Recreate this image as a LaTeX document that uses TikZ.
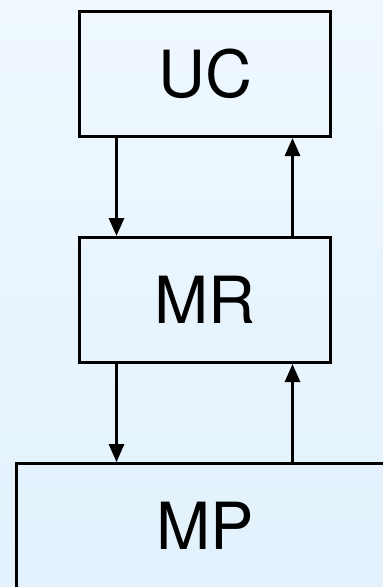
\documentclass[tikz,border=0pt]{standalone}
\usepackage{fontspec}
\setmainfont{TeX Gyre Heros}
\usetikzlibrary{arrows.meta}
\definecolor{bgtop}{RGB}{239,248,255}
\definecolor{bgbot}{RGB}{226,241,252}
\begin{document}
\begin{tikzpicture}[x=1pt,y=-1pt,
  blk/.style={draw=black, line width=3pt, minimum width=251pt, minimum height=125pt, inner sep=0pt, font=\fontsize{65}{78}\selectfont},
  link/.style={line width=3pt, -{Triangle[length=18pt,width=15pt]}}]
\useasboundingbox (0,0) rectangle (383,587);
\shade[top color=bgtop, bottom color=bgbot] (0,0) rectangle (383,587);
\begin{scope}
\clip (0,0) rectangle (383,587);
\node[blk] (uc) at (205,74) {UC};
\node[blk] (mr) at (205,300) {MR};
\node[blk, line width=2.7pt, minimum width=377pt] (mp) at (205,526) {MP};
\coordinate (xl) at (116.5,0);
\coordinate (xr) at (292.5,0);
\draw[link] (uc.south -| xl) -- (mr.north -| xl);
\draw[link] (mr.north -| xr) -- (uc.south -| xr);
\draw[link, line width=2.7pt] (mr.south -| xl) -- (mp.north -| xl);
\draw[link, line width=2.7pt] (mp.north -| xr) -- (mr.south -| xr);
\end{scope}
\end{tikzpicture}
\end{document}
